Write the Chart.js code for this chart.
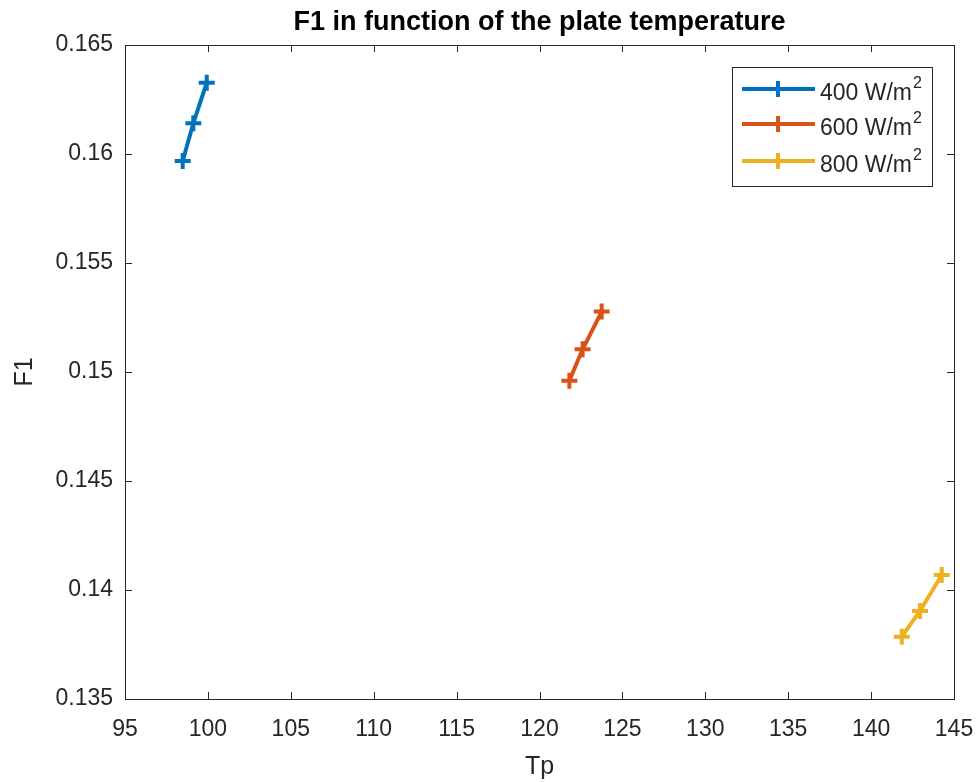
<!DOCTYPE html>
<html><head><meta charset="utf-8">
<script src="https://cdn.jsdelivr.net/npm/chart.js@4"></script>
<style>html,body{margin:0;padding:0;background:#fff}#wrap{width:978px;height:782px}</style>
</head><body><div id="wrap"><canvas id="c" width="978" height="782"></canvas></div>
<script>
const chartTitle = 'F1 in function of the plate temperature';
const xTitle = 'Tp';
const yTitle = 'F1';
const seriesLabels = ['400 W/m²', '600 W/m²', '800 W/m²'];
const tp400 = [98.48, 99.12, 99.93];
const f400  = [0.15968, 0.16141, 0.16327];
const tp600 = [121.8, 122.6, 123.75];
const f600  = [0.1496, 0.15104, 0.15277];
const tp800 = [141.85, 142.95, 144.26];
const f800  = [0.13786, 0.13904, 0.14069];
const xTicks = [95, 100, 105, 110, 115, 120, 125, 130, 135, 140, 145];
const yTicks = [0.135, 0.14, 0.145, 0.15, 0.155, 0.16, 0.165];
const yTickLabels = ['0.135', '0.14', '0.145', '0.15', '0.155', '0.16', '0.165'];
const colors = ['#0072BD', '#D95319', '#EDB120'];

const FONT = "'Liberation Sans', Arial, Helvetica, sans-serif";
const AXC = '#262626';

function pts(xs, ys) { return xs.map((x, i) => ({x: x, y: ys[i]})); }
const series = [[tp400, f400], [tp600, f600], [tp800, f800]];

const datasets = series.map((s, i) => ({
  label: seriesLabels[i],
  data: pts(s[0], s[1]),
  showLine: true,
  borderColor: colors[i],
  backgroundColor: colors[i],
  borderWidth: 4,
  pointStyle: 'cross',
  pointRadius: 8,
  pointBorderWidth: 4,
  pointHoverRadius: 8,
  tension: 0
}));

const framePlugin = {
  id: 'frame',
  afterDraw(chart) {
    const ctx = chart.ctx, a = chart.chartArea;
    const xs = chart.scales.x, ys = chart.scales.y;
    ctx.save();
    ctx.strokeStyle = AXC;
    ctx.lineWidth = 1;
    ctx.strokeRect(Math.round(a.left) + 0.5, Math.round(a.top) + 0.5, Math.round(a.right - a.left), Math.round(a.bottom - a.top));
    const TL = 7;
    ctx.beginPath();
    xTicks.forEach(v => {
      const px = Math.round(xs.getPixelForValue(v)) + 0.5;
      ctx.moveTo(px, a.bottom); ctx.lineTo(px, a.bottom - TL);
      ctx.moveTo(px, a.top); ctx.lineTo(px, a.top + TL);
    });
    yTicks.forEach(v => {
      const py = Math.round(ys.getPixelForValue(v)) + 0.5;
      ctx.moveTo(a.left, py); ctx.lineTo(a.left + TL, py);
      ctx.moveTo(a.right, py); ctx.lineTo(a.right - TL, py);
    });
    ctx.stroke();

    // legend
    const bx = 732.5, by = 67.5, bw = 200, bh = 119;
    ctx.fillStyle = '#fff';
    ctx.fillRect(bx, by, bw, bh);
    ctx.strokeRect(bx, by, bw, bh);
    const rows = [89, 124, 161];
    chart.data.datasets.forEach((ds, i) => {
      const y = rows[i];
      ctx.strokeStyle = ds.borderColor;
      ctx.lineWidth = 4;
      ctx.beginPath(); ctx.moveTo(742, y); ctx.lineTo(815, y); ctx.stroke();
      ctx.beginPath(); ctx.moveTo(770, y); ctx.lineTo(786, y); ctx.moveTo(778, y - 8); ctx.lineTo(778, y + 8); ctx.stroke();
      const txt = ds.label;
      const base = txt.replace('²', '');
      ctx.fillStyle = AXC;
      ctx.textBaseline = 'middle';
      ctx.textAlign = 'left';
      ctx.font = '23px ' + FONT;
      ctx.fillText(base, 820, y + 5);
      const w = ctx.measureText(base).width;
      if (txt.indexOf('²') >= 0) {
        ctx.font = '16px ' + FONT;
        ctx.fillText('2', 820 + w + 1, y - 5);
      }
    });
    ctx.restore();
  }
};

new Chart(document.getElementById('c'), {
  type: 'scatter',
  data: { datasets: datasets },
  plugins: [framePlugin],
  options: {
    responsive: false,
    devicePixelRatio: 1,
    animation: false,
    layout: { padding: { top: 0, right: 24, left: 0, bottom: 0 } },
    plugins: {
      legend: { display: false },
      tooltip: { enabled: false },
      title: {
        display: true, text: chartTitle, fullSize: false,
        color: '#000', font: { family: FONT, size: 27, weight: 'bold' },
        padding: { top: 6, bottom: 6.6 }
      }
    },
    scales: {
      x: {
        type: 'linear', min: 95, max: 145,
        afterBuildTicks: s => { s.ticks = xTicks.map(v => ({value: v})); },
        afterFit: s => { s.height = 83; s.paddingLeft = 0; s.paddingRight = 0; },
        grid: { display: false, drawTicks: false },
        border: { display: false },
        ticks: { color: AXC, font: { family: FONT, size: 23 }, padding: 17, maxRotation: 0, callback: v => String(v) },
        title: { display: true, text: xTitle, color: AXC, font: { family: FONT, size: 25 }, padding: { top: 0, bottom: 0 } }
      },
      y: {
        type: 'linear', min: 0.135, max: 0.165,
        afterBuildTicks: s => { s.ticks = yTicks.map(v => ({value: v})); },
        afterFit: s => { s.width = 125; s.paddingTop = 0; s.paddingBottom = 0; },
        grid: { display: false, drawTicks: false },
        border: { display: false },
        ticks: { color: AXC, font: { family: FONT, size: 23 }, padding: 12, callback: (v, i) => yTickLabels[i] },
        title: { display: true, text: yTitle, color: AXC, font: { family: FONT, size: 25 }, padding: { top: 10, bottom: 0 } }
      }
    }
  }
});
</script>
</body></html>
